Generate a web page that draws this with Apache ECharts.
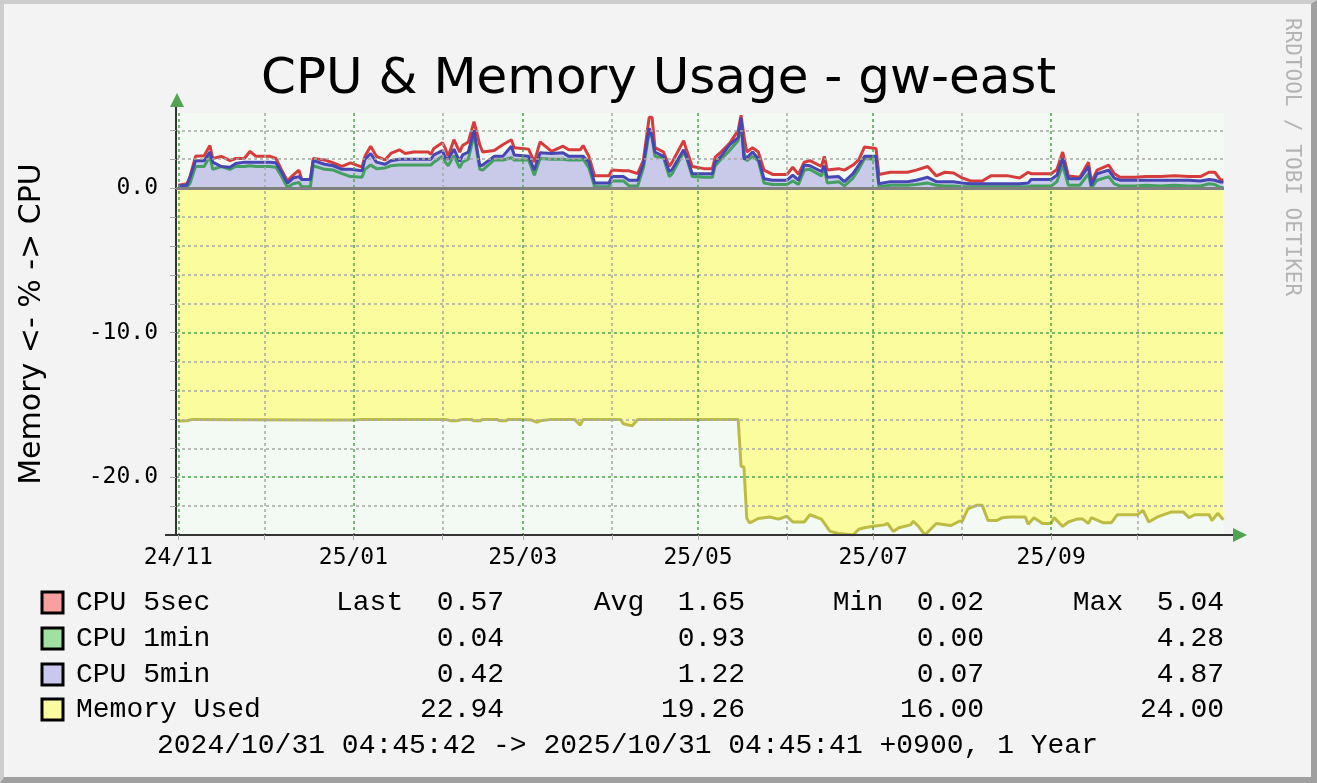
<!DOCTYPE html>
<html>
<head>
<meta charset="utf-8">
<title>CPU &amp; Memory Usage - gw-east</title>
<script src="https://cdn.jsdelivr.net/npm/echarts@6/dist/echarts.min.js"></script>
<style>
html, body { margin: 0; padding: 0; background: #f3f3f3; }
#wrap { position: relative; width: 1317px; height: 783px; }
#chart { position: absolute; left: 0; top: 0; width: 1317px; height: 783px; }
#frame {
  position: absolute; left: 0; top: 0; width: 1317px; height: 783px;
  box-sizing: border-box; pointer-events: none;
  border-style: solid; border-width: 4px 6px 6px 4px;
  border-color: #cdcdcd #a0a0a0 #a0a0a0 #cdcdcd;
}
</style>
</head>
<body>
<div id="wrap">
  <div id="chart"></div>
  <div id="frame"></div>
</div>
<script>
// sample days (CPU lines)
const cpuDates = [
  '2024-11-01','2024-11-04','2024-11-05','2024-11-07','2024-11-10','2024-11-12','2024-11-13','2024-11-16','2024-11-19','2024-11-21','2024-11-24','2024-11-26','2024-11-28',
  '2024-12-01','2024-12-03','2024-12-05','2024-12-07','2024-12-09','2024-12-11','2024-12-13','2024-12-14','2024-12-17','2024-12-18','2024-12-22','2024-12-25','2024-12-28','2024-12-31',
  '2025-01-04','2025-01-05','2025-01-07','2025-01-09','2025-01-12','2025-01-14','2025-01-17','2025-01-19','2025-01-22','2025-01-27','2025-01-28','2025-01-29',
  '2025-02-01','2025-02-02','2025-02-03','2025-02-05','2025-02-07','2025-02-08','2025-02-10','2025-02-12','2025-02-14','2025-02-15','2025-02-19','2025-02-22','2025-02-25','2025-02-26',
  '2025-03-03','2025-03-05','2025-03-07','2025-03-11','2025-03-15','2025-03-17','2025-03-21','2025-03-22','2025-03-24','2025-03-26','2025-03-31',
  '2025-04-01','2025-04-05','2025-04-07','2025-04-10','2025-04-12','2025-04-14','2025-04-15','2025-04-16','2025-04-19','2025-04-21','2025-04-22','2025-04-26','2025-04-27','2025-04-29',
  '2025-05-03','2025-05-06','2025-05-07','2025-05-09','2025-05-12','2025-05-15','2025-05-16','2025-05-17','2025-05-18','2025-05-20','2025-05-22','2025-05-24','2025-05-27',
  '2025-06-01','2025-06-03','2025-06-05','2025-06-07','2025-06-09','2025-06-13','2025-06-14','2025-06-15','2025-06-19','2025-06-21','2025-06-24','2025-06-26','2025-06-28',
  '2025-07-02','2025-07-03','2025-07-07','2025-07-13','2025-07-16','2025-07-20','2025-07-23','2025-07-26','2025-07-29',
  '2025-08-01','2025-08-04','2025-08-08','2025-08-11','2025-08-17','2025-08-21','2025-08-24','2025-08-25',
  '2025-09-01','2025-09-03','2025-09-05','2025-09-07','2025-09-11','2025-09-14','2025-09-15','2025-09-17','2025-09-21','2025-09-23','2025-09-25','2025-09-30',
  '2025-10-04','2025-10-09','2025-10-14','2025-10-19','2025-10-23','2025-10-26','2025-10-28','2025-10-30','2025-10-31'
]

const cpu5sec = [
  0.2,0.3,0.75,2.2,2.25,2.95,2.05,2.2,1.9,2.05,2.05,2.55,2.2,
  2.2,2.2,2.05,1.25,0.5,0.9,1.25,0.6,0.6,2.05,1.95,1.75,1.5,1.75,
  1.45,2.2,2.9,2.2,1.95,2.4,2.65,2.4,2.5,2.5,2.35,2.75,
  3.15,2.75,2.2,3.35,2.5,2.95,3.2,4.6,3.0,2.5,2.6,3.0,3.35,2.8,
  2.7,1.8,3.2,2.55,2.9,2.65,2.65,2.95,2.2,0.85,0.85,
  1.25,1.2,1.2,1.0,1.95,4.9,4.9,2.8,2.5,1.5,1.8,3.28,2.65,1.5,
  1.35,1.35,2.15,2.5,3.1,4.0,5.04,3.6,2.5,2.8,2.5,1.25,0.95,
  0.95,1.45,0.95,1.8,1.9,1.5,2.2,1.25,1.35,1.25,1.6,1.95,2.85,
  2.75,0.95,1.1,1.1,1.25,1.5,0.85,1.1,1.05,
  0.7,0.5,0.5,0.85,0.85,0.7,1.1,1.0,
  1.0,1.3,2.5,0.85,0.75,1.8,0.4,1.25,1.6,1.0,0.75,0.75,
  0.8,0.8,0.85,0.8,0.8,1.1,1.1,0.57,0.57
]

const cpu1min = [
  0.05,0.1,0.3,1.5,1.5,2.2,1.3,1.5,1.3,1.5,1.5,1.55,1.5,
  1.5,1.5,1.45,0.8,0.05,0.3,0.4,0.1,0.1,1.55,1.3,1.25,1.0,0.8,
  0.75,1.3,1.6,1.35,1.4,1.55,1.6,1.6,1.6,1.6,1.6,1.8,
  2.2,1.8,1.55,2.25,1.4,1.8,2.0,3.7,1.3,1.25,1.95,1.95,2.1,1.95,
  1.95,0.9,2.05,2.0,2.0,1.95,1.95,2.0,1.4,0.1,0.1,
  0.5,0.5,0.15,0.15,1.4,3.9,3.5,2.2,2.1,0.8,1.0,2.5,2.1,0.8,
  0.75,0.75,1.55,2.0,2.6,3.3,4.28,2.5,1.9,2.2,1.9,0.35,0.25,
  0.25,0.5,0.25,1.25,1.3,0.85,1.4,0.35,0.45,0.15,0.7,1.3,2.05,
  2.0,0.1,0.2,0.2,0.25,0.35,0.2,0.15,0.15,
  0.1,0.1,0.1,0.1,0.1,0.1,0.1,0.15,
  0.15,0.45,1.6,0.2,0.2,1.0,0.0,0.55,0.8,0.3,0.15,0.15,
  0.2,0.15,0.2,0.15,0.15,0.3,0.25,0.04,0.04
]

const cpu5min = [
  0.15,0.2,0.7,1.9,1.9,2.5,1.8,1.5,1.45,1.7,1.8,1.8,1.8,
  1.8,1.8,1.75,1.1,0.35,0.7,0.8,0.6,0.6,1.9,1.65,1.55,1.3,1.3,
  1.2,2.0,2.4,1.8,1.65,1.9,2.0,2.0,2.0,2.0,2.0,2.3,
  2.6,2.1,2.0,2.7,1.85,2.3,2.5,4.0,1.55,1.6,2.2,2.2,2.9,2.3,
  2.2,1.25,2.45,2.4,2.45,2.2,2.2,2.2,1.8,0.35,0.35,
  0.8,0.8,0.55,0.55,1.7,4.15,3.6,2.5,2.2,1.15,1.3,2.65,2.2,1.0,
  1.0,1.0,1.8,2.2,3.0,3.5,4.87,2.0,2.1,2.5,2.05,0.65,0.55,
  0.55,0.9,0.55,1.6,1.55,1.15,1.55,0.75,0.8,0.45,1.0,1.6,2.2,
  2.2,0.3,0.45,0.45,0.55,0.75,0.45,0.45,0.45,
  0.35,0.3,0.3,0.3,0.3,0.3,0.35,0.6,
  0.6,0.9,2.05,0.65,0.65,1.5,0.2,1.0,1.25,0.7,0.55,0.55,
  0.55,0.55,0.55,0.55,0.5,0.6,0.55,0.42,0.42
]

// memory used, plotted downward
const memDates = [
  '2024-11-01','2024-11-04','2024-11-06','2024-12-18','2024-12-31','2025-01-04',
  '2025-02-02','2025-02-04','2025-02-06','2025-02-08','2025-02-11','2025-02-12','2025-02-14','2025-02-15',
  '2025-02-20','2025-02-21','2025-02-23','2025-02-24','2025-02-28',
  '2025-03-04','2025-03-06','2025-03-07','2025-03-11','2025-03-19','2025-03-21','2025-03-22',
  '2025-04-04','2025-04-05','2025-04-08','2025-04-10',
  '2025-05-15','2025-05-16','2025-05-17','2025-05-18','2025-05-19','2025-05-22','2025-05-26','2025-05-29',
  '2025-06-01','2025-06-03','2025-06-07','2025-06-09','2025-06-13','2025-06-16','2025-06-19','2025-06-24','2025-06-26','2025-06-28',
  '2025-07-01','2025-07-05','2025-07-06','2025-07-08','2025-07-10','2025-07-14','2025-07-15','2025-07-17','2025-07-19','2025-07-21','2025-07-23','2025-07-28','2025-07-31',
  '2025-08-01','2025-08-03','2025-08-06','2025-08-08','2025-08-10','2025-08-13','2025-08-15','2025-08-18','2025-08-23','2025-08-24','2025-08-26','2025-08-29',
  '2025-09-01','2025-09-02','2025-09-05','2025-09-07','2025-09-10','2025-09-12','2025-09-14','2025-09-15','2025-09-19','2025-09-22','2025-09-24','2025-09-29',
  '2025-10-01','2025-10-03','2025-10-05','2025-10-08','2025-10-13','2025-10-17','2025-10-19','2025-10-21','2025-10-26','2025-10-27','2025-10-29','2025-10-31'
]
const memUsed = [
  16.12,16.1,16.0,16.05,16.05,16.0,
  16.0,16.1,16.1,16.0,16.0,16.1,16.1,16.0,
  16.0,16.1,16.1,16.0,16.0,
  16.05,16.2,16.1,16.0,16.0,16.4,16.0,
  16.0,16.3,16.45,16.0,
  16.0,19.24,19.3,22.86,23.16,22.86,22.75,22.9,
  22.7,23.1,23.1,22.6,22.9,23.75,23.9,24.0,23.6,23.5,
  23.4,23.3,23.2,23.75,23.5,23.3,23.05,23.45,24.0,23.6,23.2,23.35,23.05,
  23.05,22.2,21.95,21.95,23.0,23.0,22.8,22.75,22.75,23.25,22.8,23.2,
  23.2,22.8,23.4,23.1,22.9,22.9,23.2,22.8,23.15,23.15,22.6,22.6,
  22.6,22.3,23.1,22.75,22.4,22.4,22.8,22.6,22.6,23.0,22.5,22.94
]

const majorMonths = ['2024-11-01','2025-01-01','2025-03-01','2025-05-01','2025-07-01','2025-09-01']
const allMonths = ['2024-11-01','2024-12-01','2025-01-01','2025-02-01','2025-03-01','2025-04-01',
  '2025-05-01','2025-06-01','2025-07-01','2025-08-01','2025-09-01','2025-10-01']
const yLabelVals = [-20, -10, 0]
const yGridVals = [-22, -20, -18, -16, -14, -12, -10, -8, -6, -4, -2, 0, 2, 4]

const legendNames = ['CPU 5sec', 'CPU 1min', 'CPU 5min', 'Memory Used']
const legendSwatch = ['#f8a0a0', '#a0e0a0', '#c8c8ec', '#fafa9e']
const statLast = ['0.57', '0.04', '0.42', '22.94']
const statAvg = ['1.65', '0.93', '1.22', '19.26']
const statMin = ['0.02', '0.00', '0.07', '16.00']
const statMax = ['5.04', '4.28', '4.87', '24.00']

const X_MIN = Date.parse('2024-10-31T04:45:42Z')
const X_MAX = Date.parse('2025-10-31T04:45:41Z')

const pts = (dates, vals, sign) => dates.map((d, i) => [Date.parse(d), sign * vals[i]])
const monthLabel = (v) => {
  const d = new Date(v)
  return String(d.getUTCFullYear()).slice(2) + '/' + String(d.getUTCMonth() + 1).padStart(2, '0')
}

const GRAY = '#a8a8a8'
const GREEN = '#4ca64c'
const MONO = '"Liberation Mono", monospace'

function legendGraphics() {
  const els = []
  const rowY = [603, 639, 675, 710]
  const cols = [
    { x: 504, label: 'Last  ', vals: statLast },
    { x: 745, label: 'Avg  ', vals: statAvg },
    { x: 984, label: 'Min  ', vals: statMin },
    { x: 1224, label: 'Max  ', vals: statMax },
  ]
  legendNames.forEach((name, i) => {
    els.push({
      type: 'rect', shape: { x: 42, y: rowY[i] - 11, width: 21, height: 21 },
      style: { fill: legendSwatch[i], stroke: '#000', lineWidth: 3 },
    })
    els.push({
      type: 'text', x: 76, y: rowY[i],
      style: { text: name, font: '28px ' + MONO, fill: '#000', textAlign: 'left', textVerticalAlign: 'middle' },
    })
    cols.forEach((c) => {
      els.push({
        type: 'text', x: c.x, y: rowY[i],
        style: { text: (i === 0 ? c.label : '') + c.vals[i], font: '28px ' + MONO, fill: '#000', textAlign: 'right', textVerticalAlign: 'middle' },
      })
    })
  })
  els.push({
    type: 'text', x: 157, y: 746,
    style: { text: '2024/10/31 04:45:42 -> 2025/10/31 04:45:41 +0900, 1 Year', font: '28px ' + MONO, fill: '#000', textAlign: 'left', textVerticalAlign: 'middle' },
  })
  return els
}

const chart = echarts.init(document.getElementById('chart'))
chart.setOption({
  animation: false,
  backgroundColor: '#f3f3f3',
  title: {
    text: 'CPU & Memory Usage - gw-east', left: 'center', top: 50,
    textStyle: { fontFamily: 'DejaVu Sans', fontSize: 50, fontWeight: 'normal', color: '#000' },
  },
  grid: { left: 176, right: 93, top: 113, bottom: 248, show: true, backgroundColor: '#f3f9f3', borderWidth: 0 },
  xAxis: {
    // timestamps on a plain value axis so the month ticks can be placed exactly
    type: 'value', min: X_MIN, max: X_MAX, z: 3,
    axisLine: { show: true, onZero: false, lineStyle: { color: '#333', width: 2 } },
    axisTick: { show: true, customValues: allMonths.map(Date.parse), length: 5, lineStyle: { color: GRAY } },
    axisLabel: {
      customValues: majorMonths.map(Date.parse), formatter: monthLabel,
      fontFamily: 'DejaVu Sans Mono', fontSize: 23, color: '#000', margin: 12,
    },
    splitLine: { show: true, lineStyle: { color: [GREEN, GRAY], type: [3, 3], width: 1.5 } },
  },
  yAxis: {
    type: 'value', min: -24, max: 5.2, z: 3,
    name: 'Memory <- % -> CPU', nameLocation: 'middle', nameRotate: 90, nameGap: 129,
    nameTextStyle: { fontFamily: 'DejaVu Sans', fontSize: 30, color: '#000' },
    axisLine: { show: true, lineStyle: { color: '#333', width: 2 } },
    axisTick: { show: true, customValues: yGridVals, length: 6, lineStyle: { color: GRAY } },
    axisLabel: {
      customValues: yLabelVals, formatter: (v) => v.toFixed(1),
      fontFamily: 'DejaVu Sans Mono', fontSize: 23, color: '#000', margin: 18,
    },
    splitLine: { show: true, lineStyle: { color: [GRAY, GREEN, GRAY, GRAY, GRAY], type: [3, 3], width: 1.5 } },
  },
  series: [
    {
      name: 'Memory Used', type: 'line', data: pts(memDates, memUsed, -1),
      showSymbol: false, z: 2,
      lineStyle: { color: '#bcbc44', width: 3 },
      areaStyle: { color: '#fafc9e', opacity: 1 },
      markLine: {
        silent: true, symbol: ['none', 'none'], label: { show: false },
        lineStyle: { color: '#808080', type: 'solid', width: 3 },
        data: [{ yAxis: 0 }],
      },
    },
    {
      name: 'CPU 5min area', type: 'line', data: pts(cpuDates, cpu5min, 1),
      showSymbol: false, z: 2,
      lineStyle: { width: 0 },
      areaStyle: { color: '#c9c9e9', opacity: 1 },
    },
    {
      name: 'CPU 5sec', type: 'line', data: pts(cpuDates, cpu5sec, 1),
      showSymbol: false, z: 2, lineStyle: { color: '#d63c3c', width: 3 },
    },
    {
      name: 'CPU 1min', type: 'line', data: pts(cpuDates, cpu1min, 1),
      showSymbol: false, z: 2, lineStyle: { color: '#44a060', width: 3 },
    },
    {
      name: 'CPU 5min', type: 'line', data: pts(cpuDates, cpu5min, 1),
      showSymbol: false, z: 2, lineStyle: { color: '#4646b4', width: 3 },
    },
  ],
  graphic: [
    // axis ends and arrows
    { type: 'line', shape: { x1: 176, y1: 113, x2: 176, y2: 106 }, style: { stroke: '#333', lineWidth: 2 } },
    { type: 'polygon', shape: { points: [[170, 107], [184, 107], [177, 93]] }, style: { fill: '#52a352' } },
    { type: 'line', shape: { x1: 165, y1: 535, x2: 176, y2: 535 }, style: { stroke: '#333', lineWidth: 2 } },
    { type: 'line', shape: { x1: 1224, y1: 535, x2: 1234, y2: 535 }, style: { stroke: '#333', lineWidth: 2 } },
    { type: 'polygon', shape: { points: [[1233, 528], [1233, 542], [1247, 535]] }, style: { fill: '#52a352' } },
    {
      type: 'text', x: 1291, y: 157, rotation: -Math.PI / 2,
      style: { text: 'RRDTOOL / TOBI OETIKER', font: '21px "DejaVu Sans Mono"', fill: '#b4b4b4', textAlign: 'center', textVerticalAlign: 'middle' },
    },
    ...legendGraphics(),
  ],
})
</script>
</body>
</html>
